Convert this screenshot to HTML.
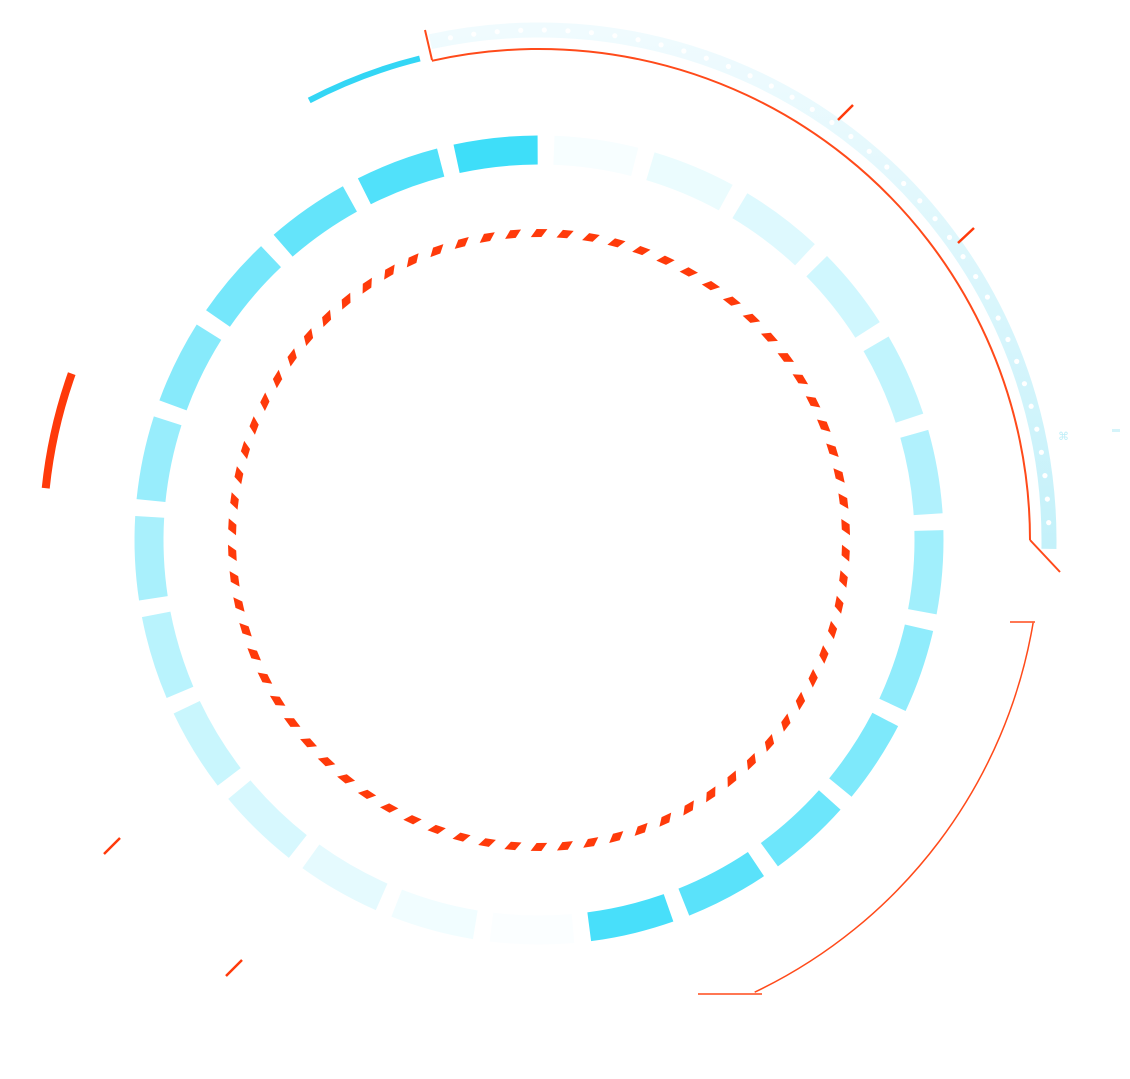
<!DOCTYPE html>
<html><head><meta charset="utf-8"><style>html,body{margin:0;padding:0;background:#fff;}svg{display:block}</style></head>
<body>
<svg id="s" width="1130" height="1079" viewBox="0 0 1130 1079" xmlns="http://www.w3.org/2000/svg">
<defs>
<linearGradient id="band" x1="0" y1="0" x2="0" y2="1">
<stop offset="0" stop-color="#f0fbfe"/><stop offset="1" stop-color="#c4f1fa"/>
</linearGradient>
</defs>
<g id="g"></g>
<line x1="425" y1="30" x2="432" y2="60" stroke="#ff4a1a" stroke-width="2"/>
<line x1="1030" y1="540" x2="1060" y2="572" stroke="#ff4a1a" stroke-width="2"/>
<line x1="1010" y1="622" x2="1035" y2="622" stroke="#ff4a1a" stroke-width="1.5"/>
<line x1="698" y1="994" x2="762" y2="994" stroke="#ff4a1a" stroke-width="1.5"/>
<g stroke="#ff3a0a" stroke-width="2.5">
<line x1="838" y1="120" x2="853" y2="105"/><line x1="958" y1="243" x2="974" y2="228"/>
<line x1="104" y1="854" x2="120" y2="838"/><line x1="226" y1="976" x2="242" y2="960"/>
</g>
<text x="1058" y="440" font-family="Liberation Sans, sans-serif" font-size="11" fill="#bdeef8">⌘</text>
<rect x="1112" y="429" width="8" height="3" fill="#d5f4fa"/>
</svg>
<script>
var g=document.getElementById('g'),cx=539,cy=540,NS='http://www.w3.org/2000/svg';
function P(r,a){a=a*Math.PI/180;return [cx+r*Math.sin(a),cy-r*Math.cos(a)];}
function arc(r,a0,a1){var p=P(r,a0),q=P(r,a1),l=(a1-a0)>180?1:0;return 'M'+p[0].toFixed(2)+' '+p[1].toFixed(2)+' A'+r+' '+r+' 0 '+l+' 1 '+q[0].toFixed(2)+' '+q[1].toFixed(2);}
function add(tag,at){var e=document.createElementNS(NS,tag);for(var k in at)e.setAttribute(k,at[k]);g.appendChild(e);return e;}
var N=25,step=360/N;
for(var k=0;k<N;k++){var a0=1+k*step+1.2,a1=1+(k+1)*step-1.2,m=(a0+a1)/2;
 var ph=(((m-1)%180)+180)%180/180;var t=Math.pow(ph,1.2);
 var c0=[255,255,255],c1=[53,220,249];var c=c0.map(function(v,i){return Math.round(v+(c1[i]-v)*(0.02+0.98*t));});
 add('path',{d:arc(390,a0,a1),fill:'none',stroke:'rgb('+c.join(',')+')','stroke-width':29});}
var D=74;
for(var i=0;i<D;i++){var a=i*360/D, w=1.0, sk=0.55;
 var p1=P(303,a-w-sk),p2=P(303,a+w-sk),p3=P(311,a+w+sk),p4=P(311,a-w+sk);
 add('polygon',{points:[p1,p2,p3,p4].map(function(p){return p[0].toFixed(1)+','+p[1].toFixed(1)}).join(' '),fill:'#ff3a0a'});}
add('path',{d:arc(510,-12.3,91),fill:'none',stroke:'url(#band)','stroke-width':15});
for(var a=-10;a<=90;a+=2.65){var p=P(510,a);add('circle',{cx:p[0],cy:p[1],r:2.6,fill:'#fff'});}
add('path',{d:arc(491,-12.6,90),fill:'none',stroke:'#ff4a1a','stroke-width':2});
add('path',{d:arc(496,-27.6,-13.9),fill:'none',stroke:'#33d6f5','stroke-width':6});
add('path',{d:arc(496,-84,-70.4),fill:'none',stroke:'#ff3a0a','stroke-width':8});
add('path',{d:arc(501,99.5,154.5),fill:'none',stroke:'#ff4a1a','stroke-width':1.5});
</script>
</body></html>
